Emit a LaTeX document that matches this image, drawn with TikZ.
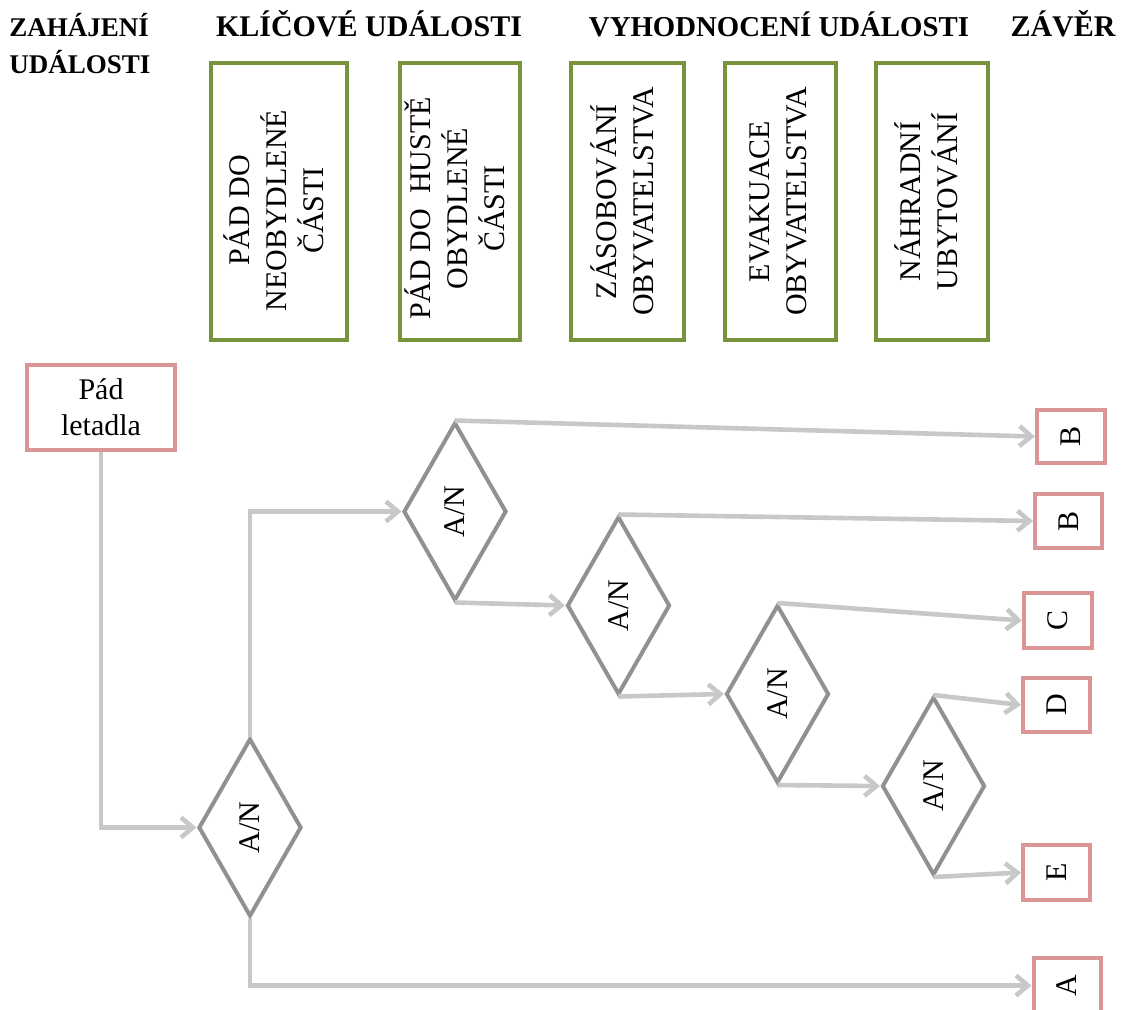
\documentclass[tikz,border=0pt]{standalone}
\usepackage{fontspec}
\setmainfont{Liberation Serif}
\usetikzlibrary{shapes.geometric,arrows.meta}
\definecolor{grn}{RGB}{119,147,60}
\definecolor{pnk}{RGB}{217,150,148}
\definecolor{dgray}{RGB}{145,145,145}
\definecolor{lgray}{RGB}{200,200,200}
\begin{document}
\begin{tikzpicture}[x=0.5pt,y=-0.5pt,
 hdr/.style={font=\fontsize{15}{18.5}\selectfont\bfseries, inner sep=0},
 evbox/.style={draw=grn, line width=2pt, fill=white, minimum height=138.5pt, inner sep=0, font=\fontsize{15}{18.5}\selectfont},
 endbox/.style={draw=pnk, line width=2pt, fill=white, inner sep=0, font=\fontsize{15}{18}\selectfont},
 dec/.style={diamond, draw=dgray, line width=2pt, fill=white, minimum width=51.5pt, minimum height=89pt, inner sep=0, font=\fontsize{15}{17}\selectfont},
 conn/.style={draw=lgray, line width=2.3pt, -{Straight Barb[length=6pt,width=10pt]}}
]
\useasboundingbox[fill=white] (0,0) rectangle (1124,1009);

% headers
\node[hdr, font=\fontsize{13.5}{18.5}\selectfont\bfseries, anchor=base west] (h1) at (9,36) {\begin{tabular}[t]{@{}l@{}}ZAHÁJENÍ\\UDÁLOSTI\end{tabular}};
\node[hdr, anchor=base] (h2) at (369,36) {KLÍČOVÉ UDÁLOSTI};
\node[hdr, font=\fontsize{14.4}{18.5}\selectfont\bfseries, anchor=base] (h3) at (779,36) {VYHODNOCENÍ UDÁLOSTI};
\node[hdr, anchor=base] (h4) at (1063,36) {ZÁVĚR};

% event boxes
\node[evbox, minimum width=68pt] (k1) at (279,201.5) {\rotatebox{90}{\begin{tabular}{@{}c@{}}PÁD DO\\NEOBYDLENÉ\\ČÁSTI\end{tabular}\hspace{9pt}}};
\node[evbox, minimum width=60pt] (k2) at (460,201.5) {\rotatebox{90}{\begin{tabular}{@{}c@{}}PÁD DO~~HUSTĚ\\OBYDLENÉ\\ČÁSTI\end{tabular}\hspace{7pt}}};
\node[evbox, minimum width=56.5pt] (v1) at (627.5,201.5) {\rotatebox{90}{\begin{tabular}{@{}c@{}}ZÁSOBOVÁNÍ\\OBYVATELSTVA\end{tabular}}};
\node[evbox, minimum width=55.5pt] (v2) at (780.5,201.5) {\rotatebox{90}{\begin{tabular}{@{}c@{}}EVAKUACE\\OBYVATELSTVA\end{tabular}}};
\node[evbox, minimum width=56pt] (v3) at (932,201.5) {\rotatebox{90}{\begin{tabular}{@{}c@{}}NÁHRADNÍ\\UBYTOVÁNÍ\end{tabular}}};

% start / end boxes
\node[endbox, minimum width=74pt, minimum height=42.5pt, align=center] (pad) at (101,407.5) {Pád\\letadla};
\node[endbox, minimum width=34pt, minimum height=26.5pt] (b1) at (1071,436.5) {\rotatebox{90}{B}};
\node[endbox, minimum width=33.5pt, minimum height=27pt] (b2) at (1068.5,521) {\rotatebox{90}{B}};
\node[endbox, minimum width=34pt, minimum height=27.5pt] (c) at (1058,620.5) {\rotatebox{90}{C}};
\node[endbox, minimum width=33.5pt, minimum height=27pt] (d) at (1056.5,705) {\rotatebox{90}{D}};
\node[endbox, minimum width=33.5pt, minimum height=27.5pt] (e) at (1056.5,872.5) {\rotatebox{90}{E}};
\node[endbox, minimum width=33.5pt, minimum height=27.5pt] (a) at (1067,985.5) {\rotatebox{90}{A}};

% decisions
\node[dec] (d1) at (250,827.5) {\rotatebox{90}{A/N}};
\node[dec] (d2) at (455,511.5) {\rotatebox{90}{A/N}};
\node[dec] (d3) at (618.5,605.5) {\rotatebox{90}{A/N}};
\node[dec] (d4) at (777.5,694) {\rotatebox{90}{A/N}};
\node[dec] (d5) at (933.5,786) {\rotatebox{90}{A/N}};

% connectors
\draw[conn] (pad.south) |- (d1.west);
\draw[conn] (d1.north) |- (d2.west);
\draw[conn] (d1.south) |- (a.west);
\draw[conn] (d2.north) -- (b1.west);
\draw[conn] (d2.south) -- (d3.west);
\draw[conn] (d3.north) -- (b2.west);
\draw[conn] (d3.south) -- (d4.west);
\draw[conn] (d4.north) -- (c.west);
\draw[conn] (d4.south) -- (d5.west);
\draw[conn] (d5.north) -- (d.west);
\draw[conn] (d5.south) -- (e.west);
\end{tikzpicture}
\end{document}
